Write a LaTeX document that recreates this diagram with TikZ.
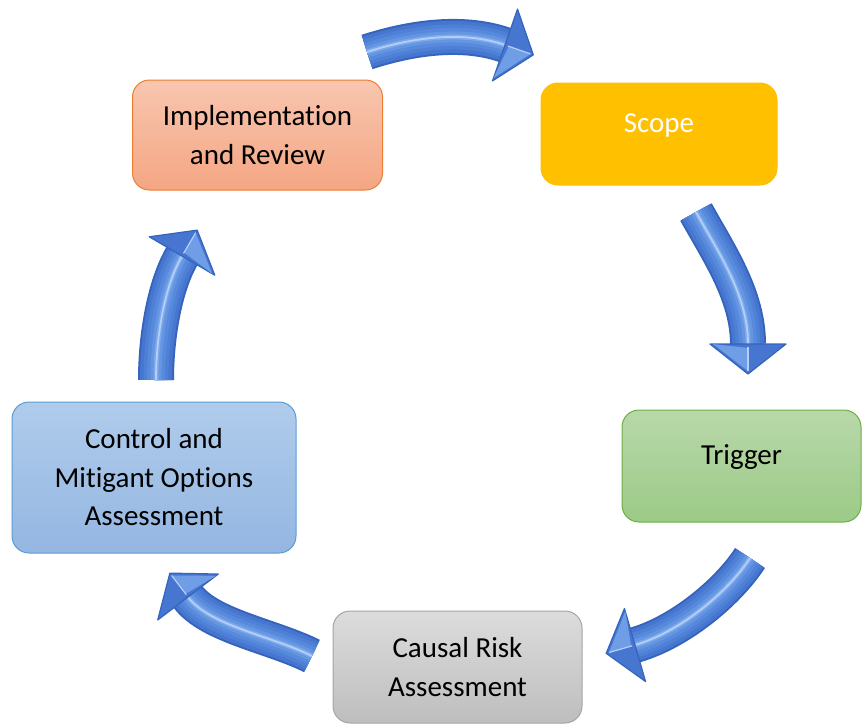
\documentclass[tikz,border=0pt]{standalone}
\usepackage{fontspec}
\setmainfont{Carlito}[Ligatures=NoCommon]
\usetikzlibrary{calc}
\definecolor{implTop}{HTML}{F8C6B0}
\definecolor{implBot}{HTML}{F4A683}
\definecolor{implLine}{HTML}{ED7D31}
\definecolor{scopeFill}{HTML}{FFC000}
\definecolor{trigTop}{HTML}{B8D8AA}
\definecolor{trigBot}{HTML}{9CCA86}
\definecolor{trigLine}{HTML}{70AD47}
\definecolor{causTop}{HTML}{DCDCDC}
\definecolor{causBot}{HTML}{BEBEBE}
\definecolor{causLine}{HTML}{A5A5A5}
\definecolor{ctrlTop}{HTML}{B0CCEC}
\definecolor{ctrlBot}{HTML}{94B6E1}
\definecolor{ctrlLine}{HTML}{5B9BD5}
\definecolor{arrEdge}{HTML}{3564BC}
\definecolor{arrMain}{HTML}{4676CF}
\definecolor{arrL1}{HTML}{4E80D6}
\definecolor{arrL2}{HTML}{578ADC}
\definecolor{arrL3}{HTML}{6596E2}
\definecolor{arrL4}{HTML}{7DA8EC}
\definecolor{arrHi}{HTML}{B4CFF7}
\definecolor{arrFacet}{HTML}{6F9DE6}
\tikzset{
  box/.style={draw, rounded corners=17pt, line width=1pt, align=center,
    font=\fontsize{29}{38.5}\selectfont, inner sep=0pt},
}
\newcommand\bArrow[4]{%
  \draw[line width=36pt, arrEdge] (#1) .. controls (#2) and (#3) .. (#4);
  \draw[line width=32pt, arrMain] (#1) .. controls (#2) and (#3) .. (#4);
  \draw[line width=25pt, arrL1] (#1) .. controls (#2) and (#3) .. (#4);
  \draw[line width=18pt, arrL2] (#1) .. controls (#2) and (#3) .. (#4);
  \draw[line width=11pt, arrL3] (#1) .. controls (#2) and (#3) .. (#4);
  \draw[line width=5pt, arrL4] (#1) .. controls (#2) and (#3) .. (#4);
  \draw[line width=1.8pt, arrHi] (#1) .. controls (#2) and (#3) .. (#4);
  \filldraw[fill=arrMain, draw=arrEdge, line width=1.2pt, line join=round]
    ($(#4)!38pt!90:(#3)$) -- ($(#4)!-30pt!(#3)$) -- ($(#4)!38pt!-90:(#3)$) -- cycle;
  \fill[arrFacet] ($(#4)!35pt!90:(#3)$) -- ($(#4)!-27pt!(#3)$) -- ($(#4)!-4pt!(#3)$) -- cycle;
  \draw[arrHi, line width=1.2pt] ($(#4)!-3pt!(#3)$) -- ($(#4)!-27pt!(#3)$);
}
\begin{document}
\begin{tikzpicture}[x=1pt,y=-1pt]
\useasboundingbox (0,0) rectangle (862,724);
\clip (0,0) rectangle (862,724);

% boxes
\node[box, draw=implLine, top color=implTop, bottom color=implBot,
  minimum width=250pt, minimum height=110pt] (impl) at (257.5,135)
  {Implementation\\and Review};
\node[box, draw=scopeFill, fill=scopeFill, text=white,
  minimum width=236pt, minimum height=102pt] (scope) at (659,134)
  {\raisebox{1.5pt}[0pt][0pt]{Scope}};
\node[box, draw=trigLine, top color=trigTop, bottom color=trigBot,
  minimum width=239pt, minimum height=112pt] (trig) at (741.5,466)
  {\raisebox{1.5pt}[0pt][0pt]{Trigger}};
\node[box, draw=causLine, top color=causTop, bottom color=causBot,
  minimum width=249pt, minimum height=112pt] (caus) at (457.5,667)
  {Causal Risk\\Assessment};
\node[box, draw=ctrlLine, top color=ctrlTop, bottom color=ctrlBot,
  minimum width=284pt, minimum height=151pt] (ctrl) at (154,477.5)
  {Control and\\Mitigant Options\\Assessment};

% arrow geometry
\coordinate (a1s) at (367,52);  \coordinate (a1c) at (410,38);
\coordinate (a1d) at (462,30);  \coordinate (a1e) at (505,45);
\coordinate (a2s) at (696,212); \coordinate (a2c) at (718,252);
\coordinate (a2d) at (748,295); \coordinate (a2e) at (748,344);
\coordinate (a3s) at (750,558); \coordinate (a3c) at (728,592);
\coordinate (a3d) at (680,632); \coordinate (a3e) at (635,645);
\coordinate (a4s) at (312,656); \coordinate (a4c) at (272,636);
\coordinate (a4d) at (210,626); \coordinate (a4e) at (188,597);
\coordinate (a5s) at (156,380); \coordinate (a5c) at (156,335);
\coordinate (a5d) at (165,285); \coordinate (a5e) at (182,256);

\bArrow{a1s}{a1c}{a1d}{a1e}
\bArrow{a2s}{a2c}{a2d}{a2e}
\bArrow{a3s}{a3c}{a3d}{a3e}
\bArrow{a4s}{a4c}{a4d}{a4e}
\bArrow{a5s}{a5c}{a5d}{a5e}
\end{tikzpicture}
\end{document}
